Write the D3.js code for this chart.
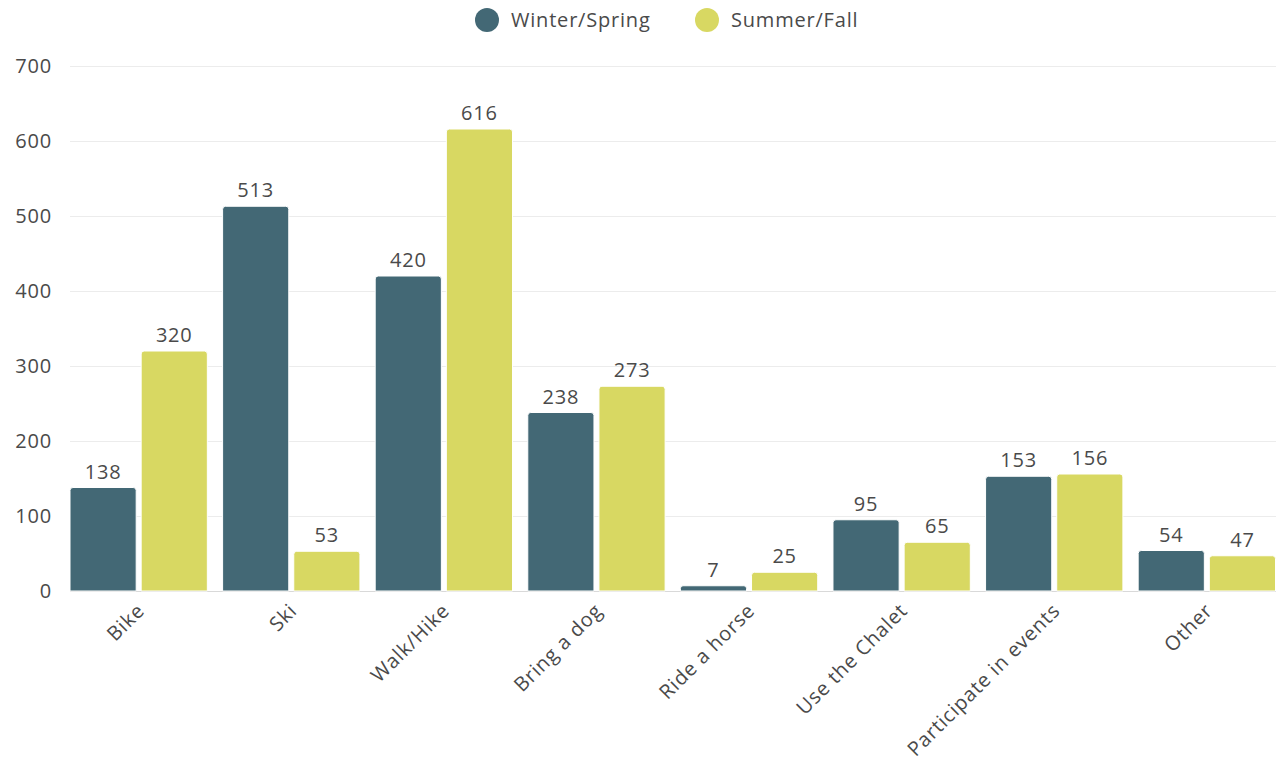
<!DOCTYPE html>
<html>
<head>
<meta charset="utf-8">
<script src="https://cdn.jsdelivr.net/npm/d3@7"></script>
<style>
  body { margin: 0; background: #fff; }
  text { font-family: "Open Sans", Lato, sans-serif; fill: #4a4a4a; letter-spacing: 0.8px; }
</style>
</head>
<body>
<svg id="canvas"></svg>
<script>
let categories = ['Bike', 'Ski', 'Walk/Hike', 'Bring a dog', 'Ride a horse', 'Use the Chalet', 'Participate in events', 'Other'];
let seriesNames = ['Winter/Spring', 'Summer/Fall'];
let winterSpring = [138, 513, 420, 238, 7, 95, 153, 54];
let summerFall = [320, 53, 616, 273, 25, 65, 156, 47];
let yTicks = [0, 100, 200, 300, 400, 500, 600, 700];
let colors = ['#436875', '#d8d862'];

let width = 1276;
let height = 765;
let plotLeft = 70;
let plotRight = 1275.5;
let plotTop = 66;
let plotBottom = 591;
let fontSize = 20;

let canvas = d3.select('#canvas').attr('width', width).attr('height', height);

let rows = categories.map((c, i) => ({ cat: c, values: [winterSpring[i], summerFall[i]] }));

let xScale = d3.scaleBand().domain(categories).range([plotLeft, plotRight]).paddingInner(0.1).paddingOuter(0);
let innerScale = d3.scaleBand().domain([0, 1]).range([0, xScale.bandwidth()]).paddingInner(0.07);
let yScale = d3.scaleLinear().domain([0, 700]).range([plotBottom, plotTop]);

// grid lines
canvas.append('g')
  .selectAll('line')
  .data(yTicks)
  .join('line')
  .attr('x1', plotLeft)
  .attr('x2', width)
  .attr('y1', d => yScale(d) + 0.5)
  .attr('y2', d => yScale(d) + 0.5)
  .attr('stroke', d => d === 0 ? '#d9d9d9' : '#ececec')
  .attr('stroke-width', 1);

// y axis labels
let yAxis = d3.axisLeft(yScale).tickValues(yTicks).tickSize(0).tickPadding(0);
let yG = canvas.append('g').attr('transform', `translate(${plotLeft - 18}, 0)`).call(yAxis);
yG.select('.domain').remove();
yG.selectAll('text').attr('font-size', fontSize).style('font-family', '"Open Sans", sans-serif').attr('fill', '#4a4a4a');

// bars
let groups = canvas.append('g')
  .selectAll('g')
  .data(rows)
  .join('g')
  .attr('transform', d => `translate(${xScale(d.cat)}, 0)`);

groups.selectAll('path')
  .data(d => d.values.map((v, i) => ({ v, i })))
  .join('path')
  .attr('fill', d => colors[d.i])
  .attr('stroke', '#fff')
  .attr('stroke-width', 1)
  .attr('d', d => {
    let x0 = innerScale(d.i);
    let w = innerScale.bandwidth();
    let y0 = yScale(d.v);
    let r = Math.min(3, (plotBottom - y0) / 2);
    return `M${x0},${plotBottom} V${y0 + r} Q${x0},${y0} ${x0 + r},${y0} H${x0 + w - r} Q${x0 + w},${y0} ${x0 + w},${y0 + r} V${plotBottom} Z`;
  });

groups.selectAll('text.val')
  .data(d => d.values.map((v, i) => ({ v, i })))
  .join('text')
  .attr('class', 'val')
  .attr('x', d => innerScale(d.i) + innerScale.bandwidth() / 2)
  .attr('y', d => yScale(d.v) - 9)
  .attr('text-anchor', 'middle')
  .attr('font-size', fontSize)
  .text(d => d.v);

// x axis labels
let xAxis = d3.axisBottom(xScale).tickSize(0).tickPadding(0);
let xG = canvas.append('g').attr('transform', `translate(0, ${plotBottom})`).call(xAxis);
xG.select('.domain').remove();
xG.selectAll('text')
  .attr('font-size', fontSize)
  .style('font-family', '"Open Sans", sans-serif')
  .attr('fill', '#4a4a4a')
  .attr('text-anchor', 'end')
  .attr('dy', 0)
  .attr('transform', 'translate(7, 21) rotate(-45)');

// legend
let legend = canvas.append('g').attr('transform', 'translate(487, 20)');
let legendX = [0, 220];
let items = legend.selectAll('g').data(seriesNames).join('g')
  .attr('transform', (d, i) => `translate(${legendX[i]}, 0)`);
items.append('circle').attr('r', 12).attr('fill', (d, i) => colors[i]);
items.append('text').attr('x', 24).attr('y', 7).attr('font-size', fontSize).text(d => d);
</script>
</body>
</html>
